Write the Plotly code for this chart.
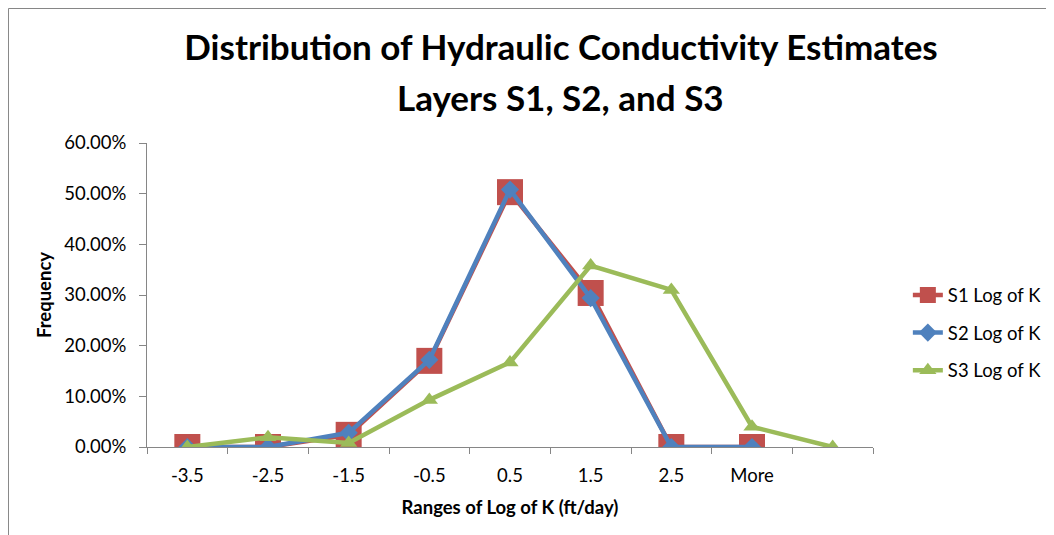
import plotly.graph_objects as go

categories = ["-3.5", "-2.5", "-1.5", "-0.5", "0.5", "1.5", "2.5", "More", " "]
s1_values = [0.0, 0.0, 0.024, 0.170, 0.503, 0.304, 0.0, 0.0]
s2_values = [0.0, 0.0, 0.028, 0.172, 0.508, 0.294, 0.0, 0.0]
s3_values = [0.0, 0.019, 0.008, 0.093, 0.167, 0.358, 0.310, 0.040, 0.0]
series_names = ["S1 Log of K", "S2 Log of K", "S3 Log of K"]
title_lines = ["Distribution of Hydraulic Conductivity Estimates", "Layers S1, S2, and S3"]

FONT = "Lato"
TXT = 18.5
fig = go.Figure()
fig.add_trace(go.Scatter(
    x=categories[:len(s1_values)], y=s1_values, name=series_names[0], legendgroup="a",
    mode="lines+markers", line=dict(color="#C0504D", width=4.5),
    marker=dict(symbol="square", size=26, color="#C0504D")))
fig.add_trace(go.Scatter(
    x=categories[:len(s2_values)], y=s2_values, name=series_names[1], legendgroup="b",
    mode="lines+markers", line=dict(color="#4F81BD", width=4.5),
    marker=dict(symbol="diamond", size=14, color="#4F81BD")))
fig.add_trace(go.Scatter(
    x=categories[:len(s3_values)], y=s3_values, name=series_names[2], legendgroup="c",
    mode="lines+markers", line=dict(color="#9BBB59", width=4.5),
    marker=dict(symbol="triangle-up", size=15, color="#9BBB59")))

fig.update_layout(
    width=1054, height=535,
    margin=dict(l=139, r=189, t=135, b=96),
    paper_bgcolor="white", plot_bgcolor="white",
    font=dict(family=FONT, size=TXT, color="black"),
    title=dict(
        text="<b>" + title_lines[0] + "</b>",
        xref="container", yref="container",
        x=0.5247, xanchor="center", y=0.9252, yanchor="middle",
        font=dict(family=FONT, size=35, color="black")),
    annotations=[dict(
        text="<b>" + title_lines[1] + "</b>", xref="paper", yref="paper",
        x=0.5702, y=1.1513, xanchor="center", yanchor="middle", showarrow=False,
        font=dict(family=FONT, size=35, color="black"))],
    showlegend=True,
    legend=dict(x=1.048, xanchor="left", y=0.375, yanchor="middle",
                font=dict(family=FONT, size=TXT), tracegroupgap=10.5,
                bgcolor="rgba(0,0,0,0)"),
    xaxis=dict(type="category", categoryorder="array", categoryarray=categories,
               tickson="boundaries", ticks="outside", ticklen=6, tickcolor="#868686",
               showline=True, linecolor="#868686", linewidth=1, showgrid=False,
               zeroline=False, range=[-0.5, 8.5], ticklabelstandoff=12,
               title=dict(text="<b>Ranges of Log of K (ft/day)</b>", standoff=15,
                          font=dict(family=FONT, size=TXT))),
    yaxis=dict(range=[0, 0.6], dtick=0.1, tickformat=".2%", ticks="outside",
               ticklen=7, tickcolor="#868686", showline=True, linecolor="#868686",
               linewidth=1, showgrid=False, zeroline=False, ticklabelstandoff=9,
               title=dict(text="<b>Frequency</b>", standoff=7,
                          font=dict(family=FONT, size=TXT))),
    shapes=[dict(type="rect", xref="paper", yref="paper",
                 x0=-0.1908, x1=1.30, y0=-0.35, y1=1.4424,
                 line=dict(color="#868686", width=1), fillcolor="rgba(0,0,0,0)",
                 layer="below")],
)
fig.write_html("out.html")
